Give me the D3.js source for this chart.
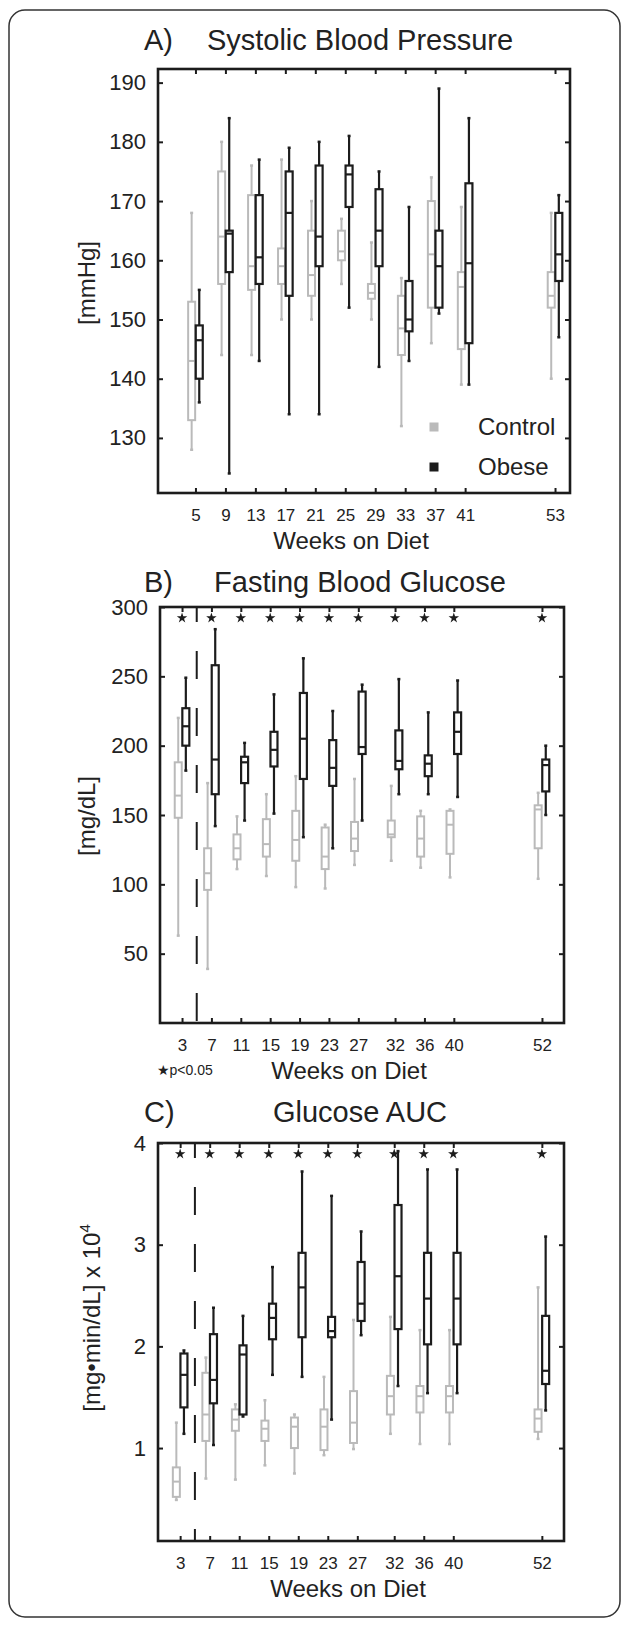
<!DOCTYPE html>
<html>
<head>
<meta charset="utf-8">
<script src="https://cdn.jsdelivr.net/npm/d3@7"></script>
<style>
  body { margin: 0; background: #fff; }
  text { font-family: "Liberation Sans", Arial, "DejaVu Sans", sans-serif; fill: #222; }
</style>
</head>
<body>
<svg width="627" height="1625"></svg>
<script>
// ---- data: [low whisker, q1, median, q3, high whisker] ----
const weeksA = [5, 9, 13, 17, 21, 25, 29, 33, 37, 41, 53];
const controlA = [
  [128, 133, 143, 153, 168], [144, 156, 164, 175, 180], [144, 155, 159, 171, 176],
  [150, 156, 159, 162, 177], [150, 154, 157.5, 165, 170], [156, 160, 161.5, 165, 167],
  [150, 153.5, 154.5, 156, 163], [132, 144, 148.5, 154, 157], [146, 152, 161, 170, 174],
  [139, 145, 155.5, 158, 169], [140, 152, 154, 158, 168]
];
const obeseA = [
  [136, 140, 146.5, 149, 155], [124, 158, 164.5, 165, 184], [143, 156, 160.5, 171, 177],
  [134, 154, 168, 175, 179], [134, 159, 164, 176, 180], [152, 169, 174.5, 176, 181],
  [142, 159, 165, 172, 175], [143, 148, 150, 156.5, 169], [151, 152, 159, 165, 189],
  [139, 146, 159.5, 173, 184], [147, 156.5, 161, 168, 171]
];

const weeksB = [3, 7, 11, 15, 19, 23, 27, 32, 36, 40, 52];
const controlB = [
  [63, 148, 164, 188, 220], [39, 96, 108, 126, 173], [111, 118, 126, 136, 149],
  [106, 120, 129, 147, 165], [98, 117, 132, 153, 178], [97, 111, 120, 141, 143],
  [114, 124, 133, 145, 176], [117, 134, 136, 146, 171], [112, 120, 133, 149, 153],
  [105, 122, 143, 153, 154], [104, 126, 154, 157, 166]
];
const obeseB = [
  [182, 200, 214, 227, 249], [142, 165, 190, 258, 284], [146, 173, 188, 192, 202],
  [151, 185, 197, 210, 237], [134, 176, 205, 238, 263], [126, 171, 184, 204, 225],
  [146, 194, 199, 239, 244], [165, 183, 189, 211, 248], [165, 178, 187, 193, 224],
  [163, 194, 210, 224, 247], [150, 167, 186, 190, 200]
];

const weeksC = weeksB;
const controlC = [
  [0.49, 0.52, 0.67, 0.81, 1.25], [0.70, 1.07, 1.33, 1.74, 1.89], [0.69, 1.17, 1.28, 1.38, 1.43],
  [0.83, 1.07, 1.19, 1.27, 1.47], [0.75, 1.00, 1.21, 1.30, 1.33], [0.93, 0.98, 1.21, 1.38, 1.70],
  [0.99, 1.05, 1.25, 1.56, 2.26], [1.14, 1.33, 1.51, 1.71, 2.29], [1.04, 1.35, 1.51, 1.61, 2.16],
  [1.04, 1.35, 1.51, 1.61, 2.16], [1.09, 1.16, 1.29, 1.38, 2.58]
];
const obeseC = [
  [1.14, 1.40, 1.72, 1.93, 1.96], [1.03, 1.44, 1.67, 2.12, 2.38], [1.31, 1.33, 1.92, 2.01, 2.30],
  [1.72, 2.07, 2.28, 2.42, 2.78], [1.70, 2.09, 2.58, 2.92, 3.72], [1.28, 2.09, 2.15, 2.29, 3.48],
  [2.11, 2.25, 2.42, 2.83, 3.13], [1.61, 2.17, 2.69, 3.39, 3.92], [1.54, 2.02, 2.47, 2.92, 3.74],
  [1.54, 2.02, 2.47, 2.92, 3.74], [1.37, 1.63, 1.76, 2.30, 3.08]
];

const groups = ["Control", "Obese"];
const colors = { Control: "#bababa", Obese: "#1c1c1c" };

const svg = d3.select("svg");

// outer rounded frame
svg.append("rect")
  .attr("x", 9).attr("y", 10).attr("width", 611).attr("height", 1607)
  .attr("rx", 16).attr("fill", "none").attr("stroke", "#333").attr("stroke-width", 1.5);

function panel(cfg) {
  const g = svg.append("g");
  const x = d3.scaleLinear().domain([0, 55]).range([cfg.left, cfg.right]);
  const y = d3.scaleLinear().domain(cfg.yDomain).range([cfg.bottom, cfg.top]);

  // titles
  g.append("text").attr("x", 144).attr("y", cfg.titleY).attr("font-size", 29).text(cfg.letter);
  g.append("text").attr("x", 360).attr("y", cfg.titleY).attr("font-size", 29)
    .attr("text-anchor", "middle").text(cfg.title);

  // dashed separator between week 3 and 7
  if (cfg.dashed) {
    g.append("line")
      .attr("x1", x(5)).attr("x2", x(5)).attr("y1", cfg.top).attr("y2", cfg.bottom)
      .attr("stroke", "#1c1c1c").attr("stroke-width", 2)
      .attr("stroke-dasharray", "28,29").attr("stroke-dashoffset", 13);
  }

  // boxes
  const off = { Control: -3.8, Obese: 3.8 };
  const bw = 7;
  [cfg.control, cfg.obese].forEach((data, gi) => {
    const name = groups[gi];
    const col = colors[name];
    const sw = name === "Obese" ? 2.2 : 2;
    const bg = g.append("g").selectAll("g").data(data).join("g")
      .attr("transform", (d, i) => `translate(${x(cfg.weeks[i]) + off[name]},0)`);
    bg.append("line").attr("x1", 0).attr("x2", 0)
      .attr("y1", d => y(d[0])).attr("y2", d => y(d[4]))
      .attr("stroke", col).attr("stroke-width", sw);
    bg.append("rect").attr("x", -bw / 2).attr("width", bw)
      .attr("y", d => y(d[3])).attr("height", d => y(d[1]) - y(d[3]))
      .attr("fill", "#fff").attr("stroke", col).attr("stroke-width", sw);
    bg.append("line").attr("x1", -bw / 2).attr("x2", bw / 2)
      .attr("y1", d => y(d[2])).attr("y2", d => y(d[2]))
      .attr("stroke", col).attr("stroke-width", sw);
    [0, 4].forEach(k => {
      bg.append("line").attr("x1", -1.5).attr("x2", 1.5)
        .attr("y1", d => y(d[k])).attr("y2", d => y(d[k]))
        .attr("stroke", col).attr("stroke-width", 2.5);
    });
  });

  // significance stars
  if (cfg.stars) {
    g.append("g").selectAll("path").data(cfg.weeks).join("path")
      .attr("d", d3.symbol(d3.symbolStar, 34))
      .attr("transform", d => `translate(${x(d)},${cfg.top + 11})`)
      .attr("fill", "#1c1c1c");
  }

  // axes frame with inward ticks
  const tk = 5;
  const bottomAxis = d3.axisBottom(x).tickValues(cfg.weeks).tickSize(-tk).tickPadding(16).tickSizeOuter(0);
  const topAxis = d3.axisTop(x).tickValues(cfg.weeks).tickSize(-tk).tickFormat("").tickSizeOuter(0);
  const leftAxis = d3.axisLeft(y).tickValues(cfg.yTicks).tickFormat(d3.format("d"))
    .tickSize(-tk).tickPadding(12).tickSizeOuter(0);
  const rightAxis = d3.axisRight(y).tickValues(cfg.yTicks).tickSize(-tk).tickFormat("").tickSizeOuter(0);

  const ax = [
    g.append("g").attr("transform", `translate(0,${cfg.bottom})`).call(bottomAxis),
    g.append("g").attr("transform", `translate(0,${cfg.top})`).call(topAxis),
    g.append("g").attr("transform", `translate(${cfg.left},0)`).call(leftAxis),
    g.append("g").attr("transform", `translate(${cfg.right},0)`).call(rightAxis)
  ];
  ax.forEach(a => {
    a.select(".domain").remove();
    a.selectAll(".tick line").attr("stroke", "#1c1c1c").attr("stroke-width", 2);
  });
  ax[0].selectAll("text").attr("font-size", 17).attr("fill", "#222").attr("font-family", null);
  ax[2].selectAll("text").attr("font-size", 22).attr("fill", "#222").attr("font-family", null);

  g.append("rect")
    .attr("x", cfg.left).attr("y", cfg.top)
    .attr("width", cfg.right - cfg.left).attr("height", cfg.bottom - cfg.top)
    .attr("fill", "none").attr("stroke", "#1c1c1c").attr("stroke-width", 2.6);

  // axis labels
  g.append("text").attr("x", (cfg.left + cfg.right) / 2 - 13).attr("y", cfg.bottom + 56)
    .attr("font-size", 24).attr("text-anchor", "middle").text("Weeks on Diet");
  const yl = g.append("text")
    .attr("transform", `translate(${cfg.ylabX},${cfg.ylabY}) rotate(-90)`)
    .attr("font-size", 24).attr("text-anchor", "middle");
  yl.append("tspan").text(cfg.ylabel);
  if (cfg.ysup) yl.append("tspan").attr("font-size", 15).attr("dy", -10).text(cfg.ysup);

  return { g, x, y };
}

const A = panel({
  letter: "A)", title: "Systolic Blood Pressure", titleY: 50,
  left: 158, right: 570, top: 69, bottom: 493,
  yDomain: [120.7, 192.3], yTicks: [130, 140, 150, 160, 170, 180, 190],
  weeks: weeksA, control: controlA, obese: obeseA,
  ylabel: "[mmHg]", ylabX: 95, ylabY: 283
});

// legend
const leg = A.g.append("g").selectAll("g").data(groups).join("g")
  .attr("transform", (d, i) => `translate(434,${427 + i * 40})`);
leg.append("rect").attr("x", -4.5).attr("y", -4.5).attr("width", 9).attr("height", 9)
  .attr("fill", d => colors[d]);
leg.append("text").attr("x", 44).attr("y", 8).attr("font-size", 24).text(d => d);

panel({
  letter: "B)", title: "Fasting Blood Glucose", titleY: 592,
  left: 160, right: 564, top: 607, bottom: 1023,
  yDomain: [0, 300], yTicks: [50, 100, 150, 200, 250, 300],
  weeks: weeksB, control: controlB, obese: obeseB, dashed: true, stars: true,
  ylabel: "[mg/dL]", ylabX: 95, ylabY: 816
});

svg.append("text").attr("x", 157).attr("y", 1075).attr("font-size", 14)
  .text("★p<0.05");

panel({
  letter: "C)", title: "Glucose AUC", titleY: 1122,
  left: 158, right: 564, top: 1143, bottom: 1541,
  yDomain: [0.086, 4], yTicks: [1, 2, 3, 4],
  weeks: weeksC, control: controlC, obese: obeseC, dashed: true, stars: true,
  ylabel: "[mg•min/dL] x 10", ysup: "4", ylabX: 100, ylabY: 1318
});
</script>
</body>
</html>
